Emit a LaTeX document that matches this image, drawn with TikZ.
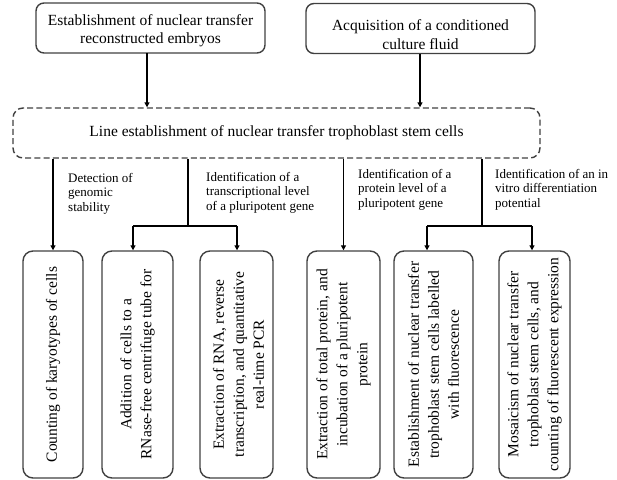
\documentclass[tikz,border=0pt]{standalone}
\usepackage{fontspec}
\setmainfont{Liberation Serif}
\usetikzlibrary{arrows.meta}
\begin{document}
\begin{tikzpicture}[x=1pt,y=-1pt,
  topbox/.style={draw=black!75,line width=1.4pt,rounded corners=8pt,
    minimum width=229pt,minimum height=50pt,inner sep=0pt},
  toptext/.style={align=center,inner sep=0pt,
    font=\fontsize{15.5}{18.5}\selectfont},
  dashbox/.style={draw=black!75,line width=1.4pt,rounded corners=10pt,
    dash pattern=on 6pt off 3.2pt,minimum width=527pt,minimum height=50pt,
    inner sep=0pt,font=\fontsize{15.5}{18.5}\selectfont},
  stepbox/.style={draw=black!75,line width=1.4pt,rounded corners=10pt,
    minimum height=227pt,inner sep=0pt},
  steptext/.style={rotate=90,align=center,inner sep=0pt,
    font=\fontsize{15.5}{20}\selectfont},
  branchlabel/.style={anchor=north west,align=left,inner sep=0pt,
    font=\fontsize{13}{14.5}\selectfont},
  arr/.style={draw=black,line width=1.3pt,-{Triangle[length=5pt,width=5pt]}},
  bar/.style={draw=black,line width=1.3pt}]
\useasboundingbox (0,0) rectangle (617,479);

% sources
\node[topbox] (src1) at (150.5,28) {};
\node[topbox] (src2) at (420.5,28.5) {};
\node[toptext] (src1t) at (150.5,30.5) {Establishment of nuclear transfer\\reconstructed embryos};
\node[toptext] (src2t) at (420.5,34.5) {Acquisition of a conditioned\\culture fluid};

% cell line
\node[dashbox] (line) at (276.5,133) {Line establishment of nuclear transfer trophoblast stem cells};

% experimental steps
\node[stepbox,minimum width=60pt] (b1) at (53,364.5) {};
\node[stepbox,minimum width=71pt] (b2) at (137.5,364.5) {};
\node[stepbox,minimum width=73pt] (b3) at (236.5,364.5) {};
\node[stepbox,minimum width=73pt] (b4) at (343.5,364.5) {};
\node[stepbox,minimum width=79pt] (b5) at (433.5,364.5) {};
\node[stepbox,minimum width=71pt] (b6) at (534.5,364.5) {};

\node[steptext] (t1) at (b1) {Counting of karyotypes of cells};
\node[steptext] (t2) at (b2) {Addition of cells to a\\RNase-free centrifuge tube for};
\node[steptext] (t3) at (238.5,364.5) {Extraction of RNA, reverse\\transcription, and quantitative\\real-time PCR};
\node[steptext] (t4) at (b4) {Extraction of total protein, and\\incubation of a pluripotent\\protein};
\node[steptext] (t5) at (b5) {Establishment of nuclear transfer\\trophoblast stem cells labelled\\with fluorescence};
\node[steptext] (t6) at (b6) {Mosaicism of nuclear transfer\\trophoblast stem cells, and\\counting of fluorescent expression};

% branch labels
\node[branchlabel] (l1) at (68,173) {Detection of\\genomic\\stability};
\node[branchlabel] (l2) at (206,172) {Identification of a\\transcriptional level\\of a pluripotent gene};
\node[branchlabel] (l3) at (358,169) {Identification of a\\protein level of a\\pluripotent gene};
\node[branchlabel] (l4) at (495,169) {Identification of an in\\vitro differentiation\\potential};

% junction points
\coordinate (s1) at (147,53);
\coordinate (s2) at (420,54);
\coordinate (j2) at (188,226);
\coordinate (j2l) at (133,226);
\coordinate (j2r) at (237,226);
\coordinate (j4) at (482,226);
\coordinate (j4l) at (427,226);
\coordinate (j4r) at (532,226);

% connectors
\draw[arr] (s1) -- (s1 |- line.north);
\draw[arr] (s2) -- (s2 |- line.north);

\draw[arr] (line.south -| b1.north) -- (b1.north);
\draw[bar] (line.south -| j2) -- (j2);
\draw[bar] (j2l) -- (j2r);
\draw[arr] (j2l) -- (j2l |- b2.north);
\draw[arr] (j2r) -- (j2r |- b3.north);
\draw[arr] (line.south -| b4.north) -- (b4.north);
\draw[bar] (line.south -| j4) -- (j4);
\draw[bar] (j4l) -- (j4r);
\draw[arr] (j4l) -- (j4l |- b5.north);
\draw[arr] (j4r) -- (j4r |- b6.north);
\end{tikzpicture}
\end{document}
